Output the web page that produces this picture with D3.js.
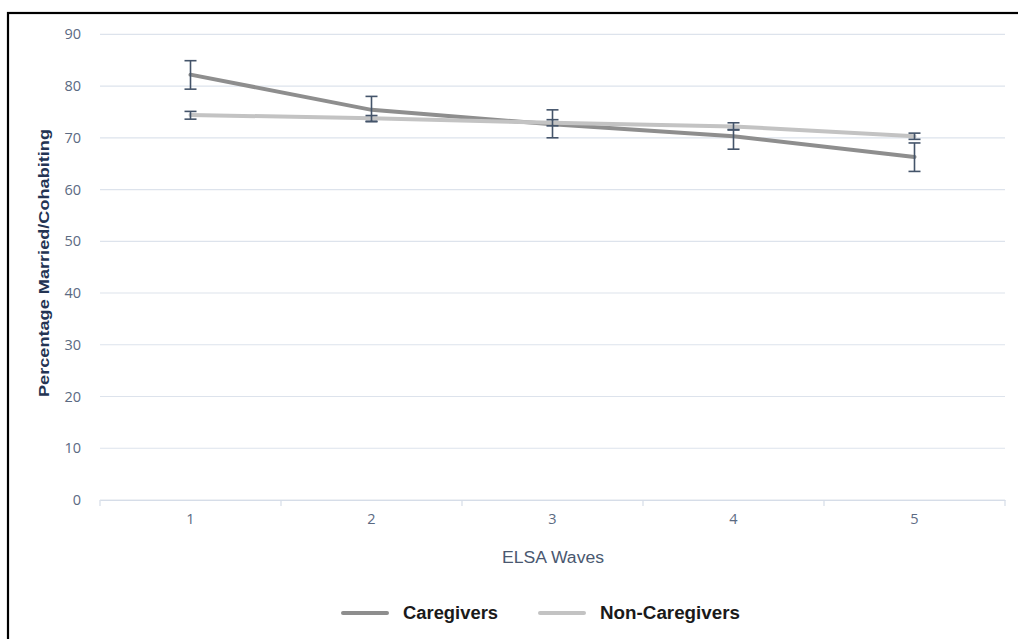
<!DOCTYPE html>
<html><head><meta charset="utf-8">
<script src="https://d3js.org/d3.v7.min.js"></script>
<style>body{margin:0;background:#fff}svg{display:block}</style>
</head><body>
<script>
const waves = ["1","2","3","4","5"];
const caregivers = [82.2, 75.4, 72.6, 70.3, 66.3];
const caregiversLow = [79.4, 73.1, 70.0, 67.8, 63.5];
const caregiversHigh = [84.9, 78.0, 75.4, 71.5, 69.0];
const nonCaregivers = [74.4, 73.8, 72.9, 72.2, 70.3];
const nonCaregiversLow = [73.6, 73.2, 72.3, 71.6, 69.7];
const nonCaregiversHigh = [75.1, 74.3, 73.5, 72.9, 70.9];
const yTicks = [0,10,20,30,40,50,60,70,80,90];

const W = 1018, H = 639;
const svg = d3.select("body").append("svg").attr("width", W).attr("height", H);
const font = "'Liberation Sans Narrow','Liberation Sans',Arial,sans-serif";
const tickFont = "'Open Sans',sans-serif";

// frame
svg.append("rect").attr("x", 8).attr("y", 13).attr("width", W + 10).attr("height", H + 10)
  .attr("fill", "none").attr("stroke", "#000").attr("stroke-width", 2.2);

const x = d3.scaleBand().domain(waves).range([100, 1005]);
const y = d3.scaleLinear().domain([0, 90]).range([500, 34.3]);

// gridlines
svg.append("g").selectAll("line").data(yTicks).join("line")
  .attr("x1", 100).attr("x2", 1005)
  .attr("y1", d => y(d)).attr("y2", d => y(d))
  .attr("stroke", "#dde3ec").attr("stroke-width", 1.2);

// y axis labels
const yAxis = svg.append("g").attr("transform", "translate(100,0)")
  .call(d3.axisLeft(y).tickValues(yTicks).tickSize(0).tickPadding(19));
yAxis.select(".domain").remove();
yAxis.selectAll("text").style("fill", "#5b6a82").style("font-size", "14.5px").style("font-family", tickFont);

// x axis
const xAxis = svg.append("g").attr("transform", "translate(0,500)")
  .call(d3.axisBottom(x).tickSize(0).tickPadding(14));
xAxis.select(".domain").attr("stroke", "#d6dde8").attr("stroke-width", 1.2);
xAxis.selectAll("text").style("fill", "#5b6a82").style("font-size", "14.5px").style("font-family", tickFont);
// category boundary ticks
const bounds = waves.map(w => x(w)).concat([x.range()[1]]);
svg.append("g").selectAll("line").data(bounds).join("line")
  .attr("x1", d => d).attr("x2", d => d).attr("y1", 500).attr("y2", 506)
  .attr("stroke", "#d6dde8").attr("stroke-width", 1.2);

const cx = w => x(w) + x.bandwidth() / 2;

function series(vals, color) {
  const line = d3.line().x((d, i) => cx(waves[i])).y(d => y(d));
  svg.append("path").datum(vals).attr("d", line).attr("fill", "none")
    .attr("stroke", color).attr("stroke-width", 4).attr("stroke-linecap", "round");
}
function errors(lo, hi) {
  const g = svg.append("g").attr("stroke", "#44546a").attr("stroke-width", 1.6);
  waves.forEach((w, i) => {
    const X = cx(w);
    g.append("line").attr("x1", X).attr("x2", X).attr("y1", y(lo[i])).attr("y2", y(hi[i]));
    g.append("line").attr("x1", X - 6).attr("x2", X + 6).attr("y1", y(lo[i])).attr("y2", y(lo[i]));
    g.append("line").attr("x1", X - 6).attr("x2", X + 6).attr("y1", y(hi[i])).attr("y2", y(hi[i]));
  });
}
series(caregivers, "#8e8e8e");
errors(caregiversLow, caregiversHigh);
series(nonCaregivers, "#c3c3c3");
errors(nonCaregiversLow, nonCaregiversHigh);

// axis titles
svg.append("text").attr("x", 553).attr("y", 563).attr("text-anchor", "middle")
  .attr("fill", "#4a5870").attr("font-size", 16).attr("font-family", font)
  .attr("textLength", 102).attr("lengthAdjust", "spacingAndGlyphs").text("ELSA Waves");
svg.append("text").attr("transform", "translate(49,263) rotate(-90)").attr("text-anchor", "middle")
  .attr("fill", "#243453").attr("font-weight", "bold").attr("font-size", 15).attr("font-family", font)
  .attr("textLength", 268).attr("lengthAdjust", "spacingAndGlyphs")
  .text("Percentage Married/Cohabiting");

// legend
const legend = [["Caregivers", "#8e8e8e", 343, 95], ["Non-Caregivers", "#c3c3c3", 540, 140]];
legend.forEach(([name, color, lx, tl]) => {
  svg.append("line").attr("x1", lx).attr("x2", lx + 44).attr("y1", 613).attr("y2", 613)
    .attr("stroke", color).attr("stroke-width", 4).attr("stroke-linecap", "round");
  svg.append("text").attr("x", lx + 60).attr("y", 619).attr("fill", "#1a1a1a")
    .attr("font-weight", "bold").attr("font-size", 18).attr("font-family", font)
    .attr("textLength", tl).attr("lengthAdjust", "spacingAndGlyphs").text(name);
});
</script>
</body></html>
